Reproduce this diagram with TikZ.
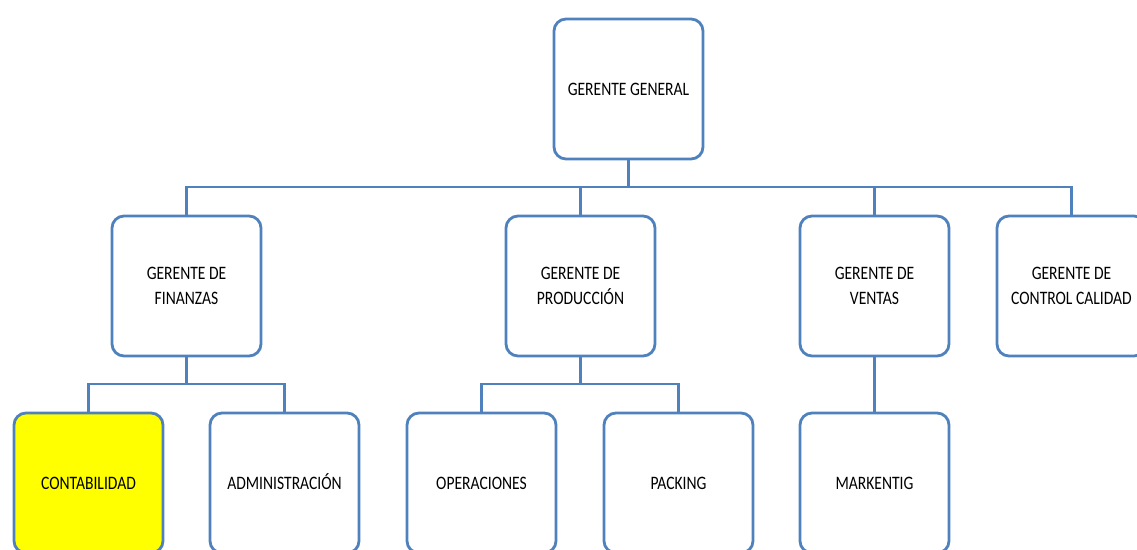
\documentclass[tikz,border=0pt]{standalone}
\usepackage{fontspec}
\setmainfont[FakeStretch=0.82]{Carlito}
\definecolor{lineblue}{RGB}{79,129,189}
\definecolor{pureyellow}{RGB}{255,255,0}
\begin{document}
\begin{tikzpicture}[x=1pt,y=-1pt,
  box/.style={draw=lineblue,line width=2.8pt,rounded corners=12pt,fill=white,
    minimum width=149pt,minimum height=140pt,align=center,
    font=\fontsize{19}{25}\selectfont,text=black},
  single/.style={text height=13pt,text depth=1pt},
  conn/.style={draw=lineblue,line width=2.8pt}]
\useasboundingbox (0,0) rectangle (1137,549);
\clip (0,0) rectangle (1137,549);
\node[box,single] (gg) at (628.5,89) {GERENTE GENERAL};
\node[box] (fin) at (186.5,286) {GERENTE DE\\FINANZAS};
\node[box] (prod) at (580.5,286) {GERENTE DE\\PRODUCCIÓN};
\node[box] (ven) at (874.5,286) {GERENTE DE\\VENTAS};
\node[box] (cal) at (1071.5,286) {GERENTE DE\\CONTROL CALIDAD};
\node[box,single,fill=pureyellow] (cont) at (88.5,483) {CONTABILIDAD};
\node[box,single] (adm) at (284.5,483) {ADMINISTRACIÓN};
\node[box,single] (ope) at (481.5,483) {OPERACIONES};
\node[box,single] (pack) at (678.5,483) {PACKING};
\node[box,single] (mkt) at (874.5,483) {MARKENTIG};
\coordinate (j1) at (0,187);
\coordinate (j2) at (0,384);
\draw[conn] (gg.south) -- (gg.south |- j1);
\draw[conn] (fin.north) -- (fin.north |- j1) -- (cal.north |- j1) -- (cal.north);
\draw[conn] (prod.north) -- (prod.north |- j1);
\draw[conn] (ven.north) -- (ven.north |- j1);
\draw[conn] (fin.south) -- (fin.south |- j2);
\draw[conn] (cont.north) -- (cont.north |- j2) -- (adm.north |- j2) -- (adm.north);
\draw[conn] (prod.south) -- (prod.south |- j2);
\draw[conn] (ope.north) -- (ope.north |- j2) -- (pack.north |- j2) -- (pack.north);
\draw[conn] (ven.south) -- (mkt.north);
\end{tikzpicture}
\end{document}
